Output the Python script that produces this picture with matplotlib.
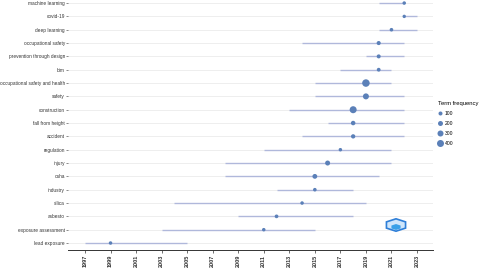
import matplotlib
matplotlib.use("Agg")
import matplotlib.pyplot as plt
from matplotlib.lines import Line2D
from matplotlib.patches import RegularPolygon
import numpy as np

plt.rcParams["font.family"] = ["Liberation Sans", "DejaVu Sans"]

# terms, top to bottom
terms = ["machine learning", "covid-19", "deep learning", "occupational safety",
         "prevention through design", "bim", "occupational safety and health",
         "safety", "construction", "fall from height", "accident", "regulation",
         "injury", "osha", "industry", "silica", "asbesto", "exposure assessment",
         "lead exposure"]
year_start = [2020, 2022, 2020, 2014, 2019, 2017, 2015, 2015, 2013, 2016, 2014, 2011,
              2008, 2008, 2012, 2004, 2009, 2003, 1997]
year_median = [2022, 2022, 2021, 2020, 2020, 2020, 2019, 2019, 2018, 2018, 2018, 2017,
               2016, 2015, 2015, 2014, 2012, 2011, 1999]
year_end = [2022, 2023, 2023, 2022, 2022, 2021, 2021, 2022, 2022, 2022, 2022, 2021,
            2021, 2020, 2018, 2019, 2018, 2015, 2005]
freq = [50, 40, 60, 110, 100, 80, 450, 300, 400, 150, 130, 50,
        200, 180, 60, 50, 70, 50, 50]
legend_vals = [100, 200, 300, 400]
xticks = list(range(1997, 2024, 2))

def size_pt(f):
    # marker diameter in points
    return (3 + f / 100) * 0.72

fig = plt.figure(figsize=(4.8, 2.7), dpi=100)
ax = fig.add_axes([0.1417, 0.074, 0.7603, 0.926])

n = len(terms)
ypos = np.arange(n, 0, -1)

for y in ypos:
    ax.axhline(y, color="#ebebeb", lw=0.6, zorder=0)

ax.hlines(ypos, year_start, year_end, color="#aab3d9", lw=1.0, alpha=0.9, zorder=1)
ax.scatter(year_median, ypos, s=[size_pt(f) ** 2 for f in freq],
           color="#5b80b8", zorder=2, linewidths=0)

ax.set_xlim(1995.67, 2024.25)
ax.set_ylim(0.475, 19.23)
ax.set_yticks(ypos)
ax.set_yticklabels(terms, fontsize=3.4, color="#333333")
ax.set_xticks(xticks)
ax.set_xticklabels([str(t) for t in xticks], rotation=90, fontsize=4,
                   fontweight="bold", color="#333333")
ax.tick_params(axis="y", length=1.5, width=0.4, color="#333333", pad=0.8)
ax.tick_params(axis="x", length=2, width=0.5, color="#333333", pad=1.5)

for side in ["top", "right", "left"]:
    ax.spines[side].set_visible(False)
ax.spines["bottom"].set_color("#333333")
ax.spines["bottom"].set_linewidth(0.7)

handles = [Line2D([], [], marker="o", linestyle="", markeredgewidth=0,
                  markerfacecolor="#5b80b8", markersize=size_pt(v)) for v in legend_vals]
leg = fig.legend(handles, [str(v) for v in legend_vals], title="Term frequency",
                 loc="upper left", bbox_to_anchor=(0.905, 0.64), frameon=False,
                 fontsize=3.6, title_fontsize=4.2, labelspacing=1.0, handletextpad=0.3,
                 handlelength=1.0, borderpad=0.2)
leg._legend_box.align = "left"

# logo watermark
fig.patches.append(RegularPolygon((396 / 480, 1 - 225 / 270), 6, radius=0.023,
                                  transform=fig.transFigure, facecolor="#cfe6fb",
                                  edgecolor="#2f7fd8", lw=1.2, figure=fig))
fig.patches.append(RegularPolygon((396 / 480, 1 - 227 / 270), 6, radius=0.011,
                                  transform=fig.transFigure, facecolor="#3aa0e8",
                                  edgecolor="none", figure=fig))

fig.savefig("out.png", dpi=100)
